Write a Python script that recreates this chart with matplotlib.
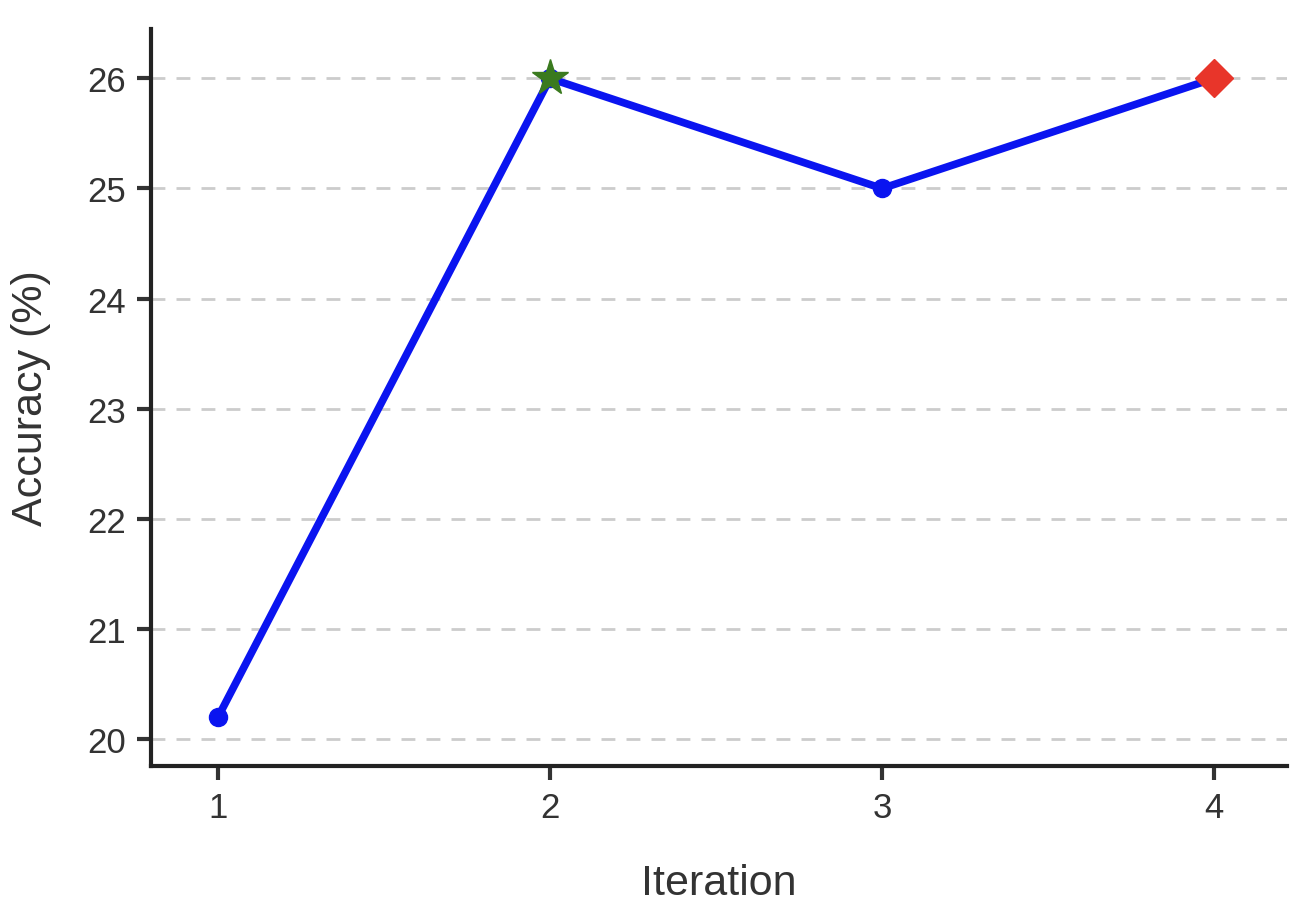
import matplotlib
matplotlib.use("Agg")
import matplotlib.pyplot as plt

iterations = [1, 2, 3, 4]
accuracy = [20.2, 26.0, 25.0, 26.0]
best_iter = 2
last_iter = 4

plt.rcParams['font.family'] = ['Liberation Sans', 'DejaVu Sans']

fig = plt.figure(figsize=(13.04, 9.04), dpi=100)
ax = fig.add_axes([0.1158, 0.1515, 0.8712, 0.8155])

ax.plot(iterations, accuracy, color='#0a14f0', linewidth=5.5, marker='o',
        markersize=13, zorder=3)
ax.plot(best_iter, accuracy[iterations.index(best_iter)], marker='*', color='#3a7a1e',
        markersize=27, linestyle='none', zorder=4)
ax.plot(last_iter, accuracy[iterations.index(last_iter)], marker='D', color='#e8352a',
        markersize=19, linestyle='none', zorder=4)

ax.set_xlim(0.798, 4.22)
ax.set_ylim(19.755, 26.45)
ax.set_xticks(iterations)
ax.set_yticks([20, 21, 22, 23, 24, 25, 26])

ax.grid(axis='y', linestyle=(0, (5, 4)), color='#cccccc', linewidth=2, zorder=0)
for side in ['top', 'right']:
    ax.spines[side].set_visible(False)
for side in ['left', 'bottom']:
    ax.spines[side].set_linewidth(3)
    ax.spines[side].set_color('#222222')

ax.tick_params(axis='both', labelsize=25, colors='#333333', length=10, width=3, pad=8)
ax.set_xlabel('Iteration', fontsize=31, color='#333333', labelpad=28)
ax.set_ylabel('Accuracy (%)', fontsize=31, color='#333333', labelpad=26)

fig.savefig('out.png', dpi=100)
